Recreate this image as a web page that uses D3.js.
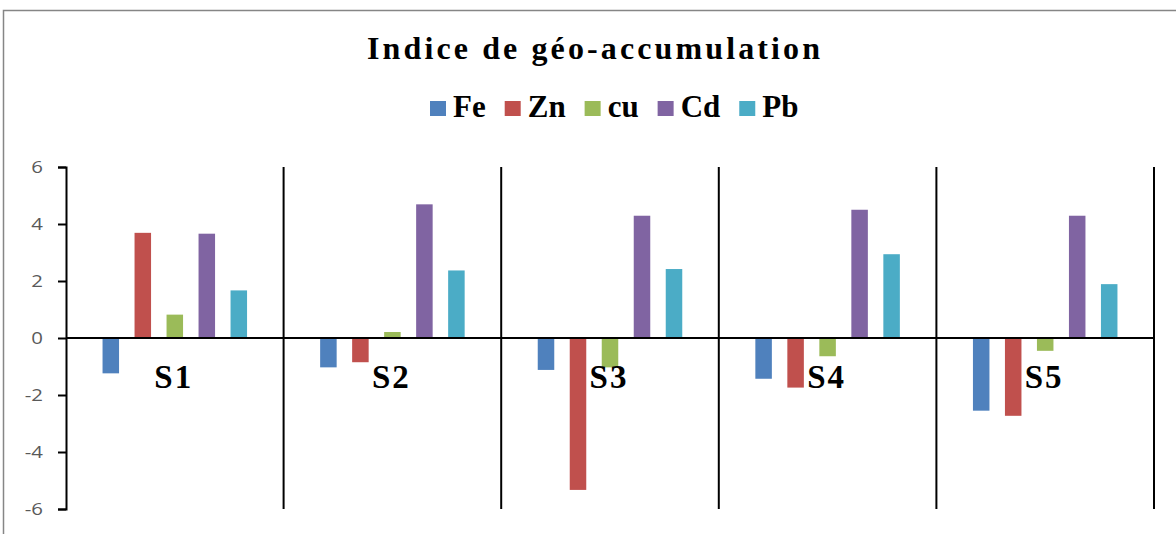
<!DOCTYPE html>
<html><head><meta charset="utf-8">
<script src="https://cdn.jsdelivr.net/npm/d3@7"></script>
<style>html,body{margin:0;padding:0;background:#fff;}svg{display:block;}</style>
</head><body>
<svg id="c" width="1176" height="534"></svg>
<script>
const categories = ["S1","S2","S3","S4","S5"];
const seriesNames = ["Fe","Zn","cu","Cd","Pb"];
const seriesColors = ["#4F81BD","#C0504D","#9BBB59","#8064A2","#4BACC6"];
const Fe = [-1.24,-1.03,-1.12,-1.43,-2.55];
const Zn = [3.69,-0.85,-5.33,-1.74,-2.73];
const cu = [0.82,0.21,-1.03,-0.64,-0.45];
const Cd = [3.66,4.69,4.29,4.50,4.29];
const Pb = [1.67,2.37,2.42,2.94,1.89];
const yTicks = [-6,-4,-2,0,2,4,6];
const titleText = "Indice de géo-accumulation";

(function(){
const values = [Fe,Zn,cu,Cd,Pb];
const svg = d3.select("#c");
const serif = "'Liberation Serif','Times New Roman',serif";

// outer frame
svg.append("rect").attr("x",3.5).attr("y",10.5).attr("width",1300).attr("height",700)
  .attr("fill","none").attr("stroke","#868686").attr("stroke-width",1.5);

const pLeft=66, pRight=1154, pTop=167, pBottom=509;
const x0 = d3.scaleBand().domain(categories).range([pLeft,pRight]).paddingInner(0).paddingOuter(0);
const x1 = d3.scaleBand().domain(seriesNames).range([0,x0.bandwidth()]).paddingInner(0.484).paddingOuter(1.142);
const y = d3.scaleLinear().domain([-6,6]).range([pBottom,pTop]);

// bars
const g = svg.append("g");
categories.forEach((c,ci)=>{
  seriesNames.forEach((s,si)=>{
    const v = values[si][ci];
    g.append("rect")
      .attr("x", x0(c)+x1(s))
      .attr("width", x1.bandwidth())
      .attr("y", y(Math.max(0,v)))
      .attr("height", Math.abs(y(v)-y(0)))
      .attr("fill", seriesColors[si]);
  });
});

// y axis
const yAxis = d3.axisLeft(y).tickValues(yTicks).tickSize(8).tickPadding(15).tickFormat(d=>String(d));
const ya = svg.append("g").attr("transform",`translate(${pLeft},0)`).call(yAxis);
ya.select(".domain").attr("stroke","#000").attr("stroke-width",2);
ya.selectAll(".tick line").attr("stroke","#000").attr("stroke-width",2);
ya.selectAll(".tick text").attr("fill","#595959")
  .style("font-family","'Open Sans','Noto Sans',sans-serif").style("font-size","17px")
  .each(function(){
    const w = this.getComputedTextLength();
    d3.select(this).attr("textLength", w*1.2).attr("lengthAdjust","spacingAndGlyphs");
  });

// category dividers
const bounds = categories.map(c=>x0(c)).concat([pRight]);
svg.append("g").selectAll("line").data(bounds.slice(1)).join("line")
  .attr("x1",d=>d).attr("x2",d=>d).attr("y1",pTop).attr("y2",pBottom)
  .attr("stroke","#000").attr("stroke-width",2);

// zero line
svg.append("line").attr("x1",pLeft).attr("x2",pRight).attr("y1",y(0)).attr("y2",y(0))
  .attr("stroke","#000").attr("stroke-width",2);

// category labels
svg.append("g").selectAll("text").data(categories).join("text")
  .attr("x",d=>x0(d)+x0.bandwidth()/2 - 1).attr("y",388)
  .attr("text-anchor","middle")
  .style("font-family",serif).style("font-weight","bold").style("font-size","33px").style("letter-spacing","2px")
  .text(d=>d);

// title
svg.append("text").attr("x",367).attr("y",59)
  .attr("textLength",453).attr("lengthAdjust","spacing")
  .style("font-family",serif).style("font-weight","bold").style("font-size","32px")
  .text(titleText);

// legend
let lx = 430;
seriesNames.forEach((s,i)=>{
  svg.append("rect").attr("x",lx).attr("y",101).attr("width",16).attr("height",15).attr("fill",seriesColors[i]);
  const t = svg.append("text").attr("x",lx+23).attr("y",117)
    .style("font-family",serif).style("font-weight","bold").style("font-size","31px").text(s);
  lx = lx + 23 + t.node().getComputedTextLength() + 19;
});
})();
</script>
</body></html>
